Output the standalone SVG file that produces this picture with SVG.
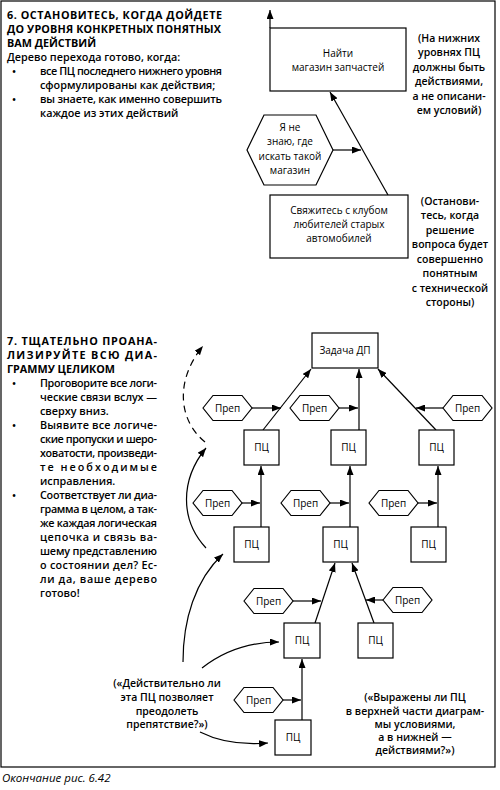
<svg xmlns="http://www.w3.org/2000/svg" width="500" height="790" viewBox="0 0 500 790">
<style>
text{font-family:"Open Sans","Noto Sans","Liberation Sans",sans-serif;fill:#000}
.h{font-size:10.8px;font-weight:700}
.b{font-size:10.8px;font-weight:600}
.l{font-size:10px;font-weight:500;text-anchor:middle}
.a{font-size:10.5px;font-weight:600;text-anchor:middle}
.box{fill:#fff;stroke:#000;stroke-width:1.2}
.c{fill:none;stroke:#000;stroke-width:1.2}
.ar{marker-end:url(#ah)}
</style>
<defs>
<marker id="ah" viewBox="0 0 9 7" refX="9" refY="3.5" markerWidth="9" markerHeight="7" orient="auto" markerUnits="userSpaceOnUse"><path d="M0,0 L9,3.5 L0,7 z" fill="#000"/></marker>
</defs>
<rect x="1" y="1" width="494" height="766" fill="none" stroke="#000" stroke-width="1.2"/>

<g id="text6">
<text class="h" x="7" y="19" textLength="215">6. ОСТАНОВИТЕСЬ, КОГДА ДОЙДЕТЕ</text>
<text class="h" x="7" y="33" textLength="214">ДО УРОВНЯ КОНКРЕТНЫХ ПОНЯТНЫХ</text>
<text class="h" x="7" y="47">ВАМ ДЕЙСТВИЙ</text>
<text class="b" x="7" y="61">Дерево перехода готово, когда:</text>
<text class="b" x="12" y="75">•</text>
<text class="b" x="40" y="75" textLength="182">все ПЦ последнего нижнего уровня</text>
<text class="b" x="40" y="89">сформулированы как действия;</text>
<text class="b" x="12" y="103">•</text>
<text class="b" x="40" y="103" textLength="182">вы знаете, как именно совершить</text>
<text class="b" x="40" y="117">каждое из этих действий</text>
</g>

<g id="text7">
<text class="h" x="7" y="345" textLength="150">7. ТЩАТЕЛЬНО ПРОАНА-</text>
<text class="h" x="7" y="359" textLength="150">ЛИЗИРУЙТЕ ВСЮ ДИА-</text>
<text class="h" x="7" y="373">ГРАММУ ЦЕЛИКОМ</text>
<text class="b" x="12" y="387">•</text>
<text class="b" x="40" y="387" textLength="117">Проговорите все логи-</text>
<text class="b" x="40" y="401" textLength="117">ческие связи вслух —</text>
<text class="b" x="40" y="415">сверху вниз.</text>
<text class="b" x="12" y="429">•</text>
<text class="b" x="40" y="429" textLength="117">Выявите все логиче-</text>
<text class="b" x="40" y="443" textLength="117">ские пропуски и шеро-</text>
<text class="b" x="40" y="457" textLength="117">ховатости, произведи-</text>
<text class="b" x="40" y="471" textLength="117">те необходимые</text>
<text class="b" x="40" y="485">исправления.</text>
<text class="b" x="12" y="499">•</text>
<text class="b" x="40" y="499" textLength="117">Соответствует ли диа-</text>
<text class="b" x="40" y="513" textLength="117">грамма в целом, а так-</text>
<text class="b" x="40" y="527" textLength="117">же каждая логическая</text>
<text class="b" x="40" y="541" textLength="117">цепочка и связь ва-</text>
<text class="b" x="40" y="555" textLength="117">шему представлению</text>
<text class="b" x="40" y="569" textLength="117">о состоянии дел? Ес-</text>
<text class="b" x="40" y="583" textLength="117">ли да, ваше дерево</text>
<text class="b" x="40" y="597">готово!</text>
</g>

<g id="connectors">
<path class="c ar" d="M270,28 L270,10"/>
<path class="c ar" d="M333,150 L361,150"/>
<path class="c ar" d="M388,195 L330,92"/>
<path class="c ar" d="M263,430 L311,369"/>
<path class="c ar" d="M359,430 L359,369"/>
<path class="c ar" d="M436,430 L378,369"/>
<path class="c ar" d="M252,408 L281,408"/>
<path class="c ar" d="M339,408 L358,408"/>
<path class="c ar" d="M443,408 L416,408"/>
<path class="c ar" d="M261,527 L261,466"/>
<path class="c ar" d="M350,527 L350,466"/>
<path class="c ar" d="M438,527 L438,466"/>
<path class="c ar" d="M242,503 L260,503"/>
<path class="c ar" d="M330,503 L349,503"/>
<path class="c ar" d="M418,503 L437,503"/>
<path class="c ar" d="M315,623 L335,563"/>
<path class="c ar" d="M374,623 L352,563"/>
<path class="c ar" d="M293,601 L321,601"/>
<path class="c ar" d="M383,600 L366,600"/>
<path class="c ar" d="M302,720 L302,659"/>
<path class="c ar" d="M283,700 L301,700"/>
<path class="c ar" d="M205,442 C178,420 175,380 203,346" stroke-dasharray="7,5"/>
<path class="c ar" d="M206,548 C180,520 180,480 206,448"/>
<path class="c ar" d="M183,662 C183,620 195,580 223,554"/>
<path class="c ar" d="M202,668 C225,650 250,642 279,642"/>
<path class="c ar" d="M200,732 C220,742 245,745 268,743"/>
</g>

<g id="n-find">
<rect class="box" x="270" y="28" width="136" height="63"/>
<text class="l" x="338" y="57">Найти</text>
<text class="l" x="338" y="71">магазин запчастей</text>
</g>
<g id="n-dontknow">
<polygon class="box" points="247,150 264,115 316,115 333,150 316,185 264,185"/>
<text class="l" x="290" y="131">Я не</text>
<text class="l" x="290" y="145">знаю, где</text>
<text class="l" x="290" y="160">искать такой</text>
<text class="l" x="290" y="174">магазин</text>
</g>
<g id="n-club">
<rect class="box" x="270" y="195" width="138" height="63"/>
<text class="l" x="339" y="214">Свяжитесь с клубом</text>
<text class="l" x="339" y="228">любителей старых</text>
<text class="l" x="339" y="242">автомобилей</text>
</g>
<g id="note1">
<text class="a" x="449" y="42">(На нижних</text>
<text class="a" x="449" y="56">уровнях ПЦ</text>
<text class="a" x="449" y="71">должны быть</text>
<text class="a" x="449" y="85">действиями,</text>
<text class="a" x="449" y="100">а не описани-</text>
<text class="a" x="449" y="114">ем условий)</text>
</g>
<g id="note2">
<text class="a" x="450" y="205">(Останови-</text>
<text class="a" x="450" y="219">тесь, когда</text>
<text class="a" x="450" y="234">решение</text>
<text class="a" x="450" y="248">вопроса будет</text>
<text class="a" x="450" y="263">совершенно</text>
<text class="a" x="450" y="277">понятным</text>
<text class="a" x="450" y="292">с технической</text>
<text class="a" x="450" y="306">стороны)</text>
</g>

<g id="n-goal">
<rect class="box" x="312" y="333" width="66" height="35"/>
<text class="l" x="345" y="354">Задача ДП</text>
</g>

<g id="n-pc1a"><rect class="box" x="244" y="430" width="35" height="35"/><text class="l" x="261.5" y="451">ПЦ</text></g>
<g id="n-pc1b"><rect class="box" x="331" y="430" width="35" height="35"/><text class="l" x="348.5" y="451">ПЦ</text></g>
<g id="n-pc1c"><rect class="box" x="419" y="430" width="35" height="35"/><text class="l" x="436.5" y="451">ПЦ</text></g>
<g id="n-pc2a"><rect class="box" x="234" y="527" width="35" height="35"/><text class="l" x="251.5" y="548">ПЦ</text></g>
<g id="n-pc2b"><rect class="box" x="323" y="527" width="35" height="35"/><text class="l" x="340.5" y="548">ПЦ</text></g>
<g id="n-pc2c"><rect class="box" x="411" y="527" width="35" height="35"/><text class="l" x="428.5" y="548">ПЦ</text></g>
<g id="n-pc3a"><rect class="box" x="284" y="623" width="36" height="35"/><text class="l" x="302" y="644">ПЦ</text></g>
<g id="n-pc3b"><rect class="box" x="358" y="623" width="35" height="35"/><text class="l" x="375.5" y="644">ПЦ</text></g>
<g id="n-pc4"><rect class="box" x="275" y="720" width="36" height="35"/><text class="l" x="293" y="741">ПЦ</text></g>

<g id="n-p1a"><polygon class="box" points="203,408 213,395.5 242,395.5 252,408 242,420.5 213,420.5"/><text class="l" x="227.5" y="411.5">Преп</text></g>
<g id="n-p1b"><polygon class="box" points="290,408 300,395.5 329,395.5 339,408 329,420.5 300,420.5"/><text class="l" x="314.5" y="411.5">Преп</text></g>
<g id="n-p1c"><polygon class="box" points="443,408 453,395.5 482,395.5 492,408 482,420.5 453,420.5"/><text class="l" x="467.5" y="411.5">Преп</text></g>
<g id="n-p2a"><polygon class="box" points="193,503 203,490.5 232,490.5 242,503 232,515.5 203,515.5"/><text class="l" x="217.5" y="506.5">Преп</text></g>
<g id="n-p2b"><polygon class="box" points="281,503 291,490.5 320,490.5 330,503 320,515.5 291,515.5"/><text class="l" x="305.5" y="506.5">Преп</text></g>
<g id="n-p2c"><polygon class="box" points="369,503 379,490.5 408,490.5 418,503 408,515.5 379,515.5"/><text class="l" x="393.5" y="506.5">Преп</text></g>
<g id="n-p3a"><polygon class="box" points="244,601 254,588.5 283,588.5 293,601 283,613.5 254,613.5"/><text class="l" x="268.5" y="604.5">Преп</text></g>
<g id="n-p3b"><polygon class="box" points="383,600 393,587.5 422,587.5 432,600 422,612.5 393,612.5"/><text class="l" x="407.5" y="603.5">Преп</text></g>
<g id="n-p4"><polygon class="box" points="234,700 244,687.5 273,687.5 283,700 273,712.5 244,712.5"/><text class="l" x="258.5" y="703.5">Преп</text></g>

<g id="note3">
<text class="a" x="167" y="687">(«Действительно ли</text>
<text class="a" x="167" y="701">эта ПЦ позволяет</text>
<text class="a" x="167" y="715">преодолеть</text>
<text class="a" x="167" y="728">препятствие?»)</text>
</g>
<g id="note4">
<text class="a" x="415" y="701">(«Выражены ли ПЦ</text>
<text class="a" x="415" y="715">в верхней части диаграм-</text>
<text class="a" x="415" y="728">мы условиями,</text>
<text class="a" x="415" y="741">а в нижней —</text>
<text class="a" x="415" y="754">действиями?»)</text>
</g>

<text x="2" y="782" style="font-size:11.5px;font-style:italic;font-weight:500">Окончание рис. 6.42</text>
</svg>
